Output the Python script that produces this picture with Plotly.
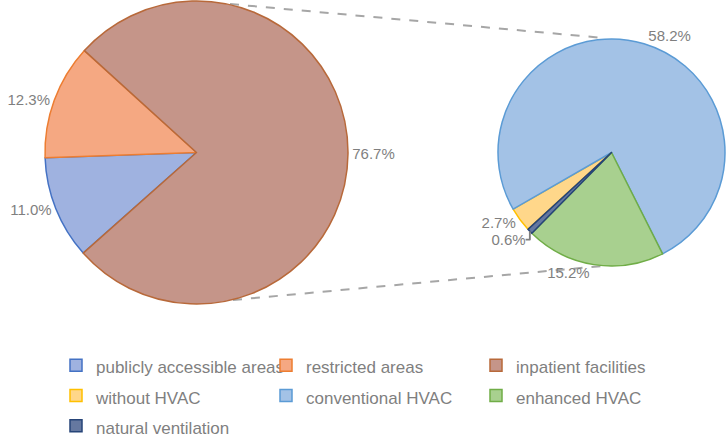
import plotly.graph_objects as go

# Left pie: share of areas
area_labels = ["publicly accessible areas", "restricted areas", "inpatient facilities"]
area_values = [11.0, 12.3, 76.7]
area_fill = ["#9fb2e0", "#f5a882", "#c59589"]
area_line = ["#4472c4", "#ed7d31", "#b8693a"]

# Right pie: breakdown of inpatient facilities
hvac_labels = ["without HVAC", "conventional HVAC", "enhanced HVAC", "natural ventilation"]
hvac_values = [2.7, 58.2, 15.2, 0.6]
hvac_fill = ["#ffd78a", "#a3c2e6", "#a8d08f", "#6578a0"]
hvac_line = ["#ffc000", "#5b9bd5", "#70ad47", "#264478"]

W, H = 726, 437

def px_x(x):
    return x / W

def px_y(y):
    return 1 - y / H

FONT = "Liberation Sans, Arial, sans-serif"
GREY = "#7f7f7f"
LEGEND_TEXT_SIZE = 17

def legend_label(s):
    return f'<span style="font-size:{LEGEND_TEXT_SIZE}px">{s}</span>'

fig = go.Figure()

fig.add_trace(go.Pie(
    labels=[legend_label(s) for s in area_labels], values=area_values,
    sort=False, direction="clockwise", rotation=228.4,
    marker=dict(colors=area_fill, line=dict(color=area_line, width=1.5)),
    texttemplate="%{value:.1f}%", textposition="outside",
    textfont=dict(size=15, color=GREY, family=FONT),
    domain=dict(x=[px_x(45), px_x(348)], y=[px_y(304), px_y(1)]),
    automargin=False, hoverinfo="label+value",
))

fig.add_trace(go.Pie(
    labels=[legend_label(s) for s in hvac_labels], values=hvac_values,
    sort=False, direction="clockwise", rotation=227.4,
    marker=dict(colors=hvac_fill, line=dict(color=hvac_line, width=1.5)),
    texttemplate="%{value:.1f}%", textposition="outside",
    textfont=dict(size=15, color=GREY, family=FONT),
    domain=dict(x=[px_x(498), px_x(725)], y=[px_y(266), px_y(39)]),
    automargin=False, hoverinfo="label+value",
))

# connector lines between the pies
for (x0, y0, x1, y1) in [(230, 4, 604, 38), (233, 300, 613, 265)]:
    fig.add_shape(type="line", xref="paper", yref="paper",
                  x0=px_x(x0), y0=px_y(y0), x1=px_x(x1), y1=px_y(y1),
                  line=dict(color="#a6a6a6", width=2, dash="dash"), layer="below")

fig.update_layout(
    width=W, height=H,
    margin=dict(l=0, r=0, t=0, b=0, autoexpand=False),
    paper_bgcolor="white", plot_bgcolor="white",
    font=dict(family=FONT, color=GREY),
    legend=dict(orientation="h", x=px_x(56), y=px_y(345), xanchor="left", yanchor="top",
                entrywidth=165, font=dict(size=21, color=GREY, family=FONT),
                traceorder="normal"),
)

fig.write_html("out.html", config={"displayModeBar": False},
               post_script="document.body.style.margin='0';")
